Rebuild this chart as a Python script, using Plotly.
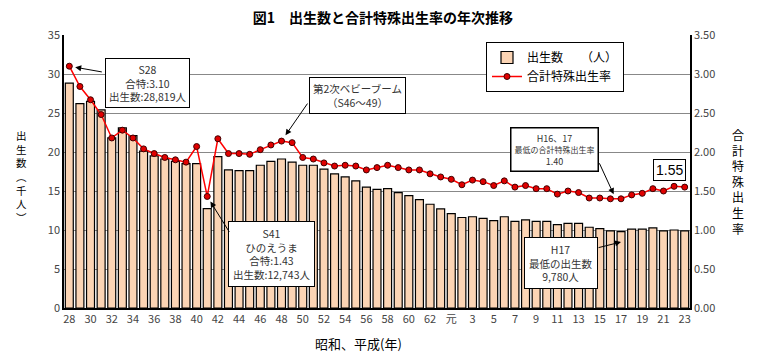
import plotly.graph_objects as go

# ---- data ----
categories = [str(y) for y in range(28, 64)] + ["元"] + [str(y) for y in range(2, 24)]
births = [28.819, 26.2, 26.5, 25.4, 21.8, 23.1, 22.1, 20.1, 19.5, 19.1, 18.8, 18.5, 18.5,
          12.743, 19.4, 17.7, 17.6, 17.6, 18.3, 18.8, 19.1, 18.7, 18.3, 18.3, 17.8, 17.2,
          16.8, 16.3, 15.5, 15.2, 15.3, 14.8, 14.4, 13.9, 13.3, 12.7, 12.1, 11.6, 11.7,
          11.5, 11.2, 11.7, 11.1, 11.3, 11.1, 11.1, 10.7, 10.85, 10.85, 10.35, 10.17, 9.9,
          9.78, 10.1, 10.1, 10.26, 9.9, 10.0, 9.9]
rates = [3.10, 2.84, 2.67, 2.48, 2.18, 2.28, 2.18, 2.04, 1.98, 1.93, 1.90, 1.87, 2.07,
         1.43, 2.17, 1.98, 1.98, 1.97, 2.03, 2.09, 2.14, 2.12, 1.93, 1.91, 1.86, 1.82,
         1.83, 1.82, 1.77, 1.80, 1.83, 1.80, 1.77, 1.77, 1.72, 1.68, 1.65, 1.58, 1.64,
         1.62, 1.57, 1.63, 1.55, 1.57, 1.53, 1.53, 1.46, 1.50, 1.48, 1.41, 1.41, 1.40,
         1.40, 1.45, 1.47, 1.53, 1.50, 1.56, 1.55]
tick_labels = categories[::2]
left_ticks = [0, 5, 10, 15, 20, 25, 30, 35]
right_ticks = [0, 0.5, 1.0, 1.5, 2.0, 2.5, 3.0, 3.5]

FONT = "Noto Sans CJK JP"
OFF = 8  # page body margin
W, H = 758 - OFF, 361 - OFF
L, R, T, B = 64 - OFF, 68, 35 - OFF, 53
PW, PH = W - L - R, H - T - B


def px(xr):
    # x in reference-page pixels -> paper
    return (xr - OFF - L) / PW


def py(yr):
    # y in reference-page pixels -> paper
    return (H - B - (yr - OFF)) / PH


fig = go.Figure()
fig.add_trace(go.Bar(
    x=categories, y=births, name="出生数　　（人）",
    marker=dict(color="#FBD4B4", line=dict(color="#000000", width=1.2)),
    yaxis="y",
))
fig.add_trace(go.Scatter(
    x=categories, y=rates, name="合計特殊出生率", mode="lines+markers",
    line=dict(color="#FF0000", width=1.5),
    marker=dict(color="#E00000", size=6, line=dict(color="#400000", width=1)),
    yaxis="y2",
))

ann = []
box = dict(showarrow=False, bgcolor="white", bordercolor="#000000", borderwidth=1,
           borderpad=3, xref="paper", yref="paper", xanchor="center", yanchor="middle",
           font=dict(family=FONT, size=10.5, color="#333333"))

ann.append(dict(box, text="S28<br>合特:3.10<br>出生数:28,819人", x=px(147), y=py(83)))
ann.append(dict(box, text="第2次ベビーブーム<br>（S46～49）", x=px(357.5), y=py(95)))
ann.append(dict(box, text="S41<br>ひのえうま<br>合特:1.43<br>出生数:12,743人",
                x=px(271.5), y=py(254), borderpad=4))
ann.append(dict(box, text="H16、17<br><span style='font-size:8px'>最低の合計特殊出生率</span><br>1.40",
                x=px(554.5), y=py(149), borderwidth=1.5,
                font=dict(family=FONT, size=9, color="#333333")))
ann.append(dict(box, text="H17<br>最低の出生数<br>9,780人", x=px(561), y=py(262.5),
                borderpad=4))
ann.append(dict(box, text="1.55", x=px(669.5), y=py(169.5), borderpad=2,
                font=dict(family="Liberation Sans", size=14, color="#000000")))

arrow = dict(text="", showarrow=True, arrowhead=2, arrowsize=1.2, arrowwidth=1,
             arrowcolor="#000000")
ann.append(dict(arrow, x=0, y=rates[0], xref="x", yref="y2", ax=34, ay=6, standoff=6))
ann.append(dict(arrow, x=20, y=rates[20], xref="x", yref="y2", ax=27, ay=-39, standoff=7))
ann.append(dict(arrow, x=13, y=rates[13], xref="x", yref="y2", ax=23, ay=37, standoff=6))
ann.append(dict(arrow, x=51.5, y=rates[51], xref="x", yref="y2", ax=-17, ay=-37, standoff=5))
ann.append(dict(arrow, x=52, y=py(242), xref="x", yref="paper", ax=-24, ay=6, standoff=0))

# vertical axis titles (stacked characters)
ann.append(dict(text="<br>".join("出生数︵千人︶"), showarrow=False, xref="paper", yref="paper",
                x=px(21), y=py(177), xanchor="center", yanchor="middle",
                font=dict(family=FONT, size=10.5, color="#000000")))
ann.append(dict(text="<br>".join("合計特殊出生率"), showarrow=False, xref="paper", yref="paper",
                x=px(738), y=py(181), xanchor="center", yanchor="middle",
                font=dict(family=FONT, size=12, color="#000000")))
ann.append(dict(text="昭和、平成(年)", showarrow=False, xref="paper", yref="paper",
                x=px(358), y=py(343), xanchor="center", yanchor="middle",
                font=dict(family=FONT, size=13, color="#000000")))

fig.update_layout(
    width=W, height=H, autosize=False,
    margin=dict(l=L, r=R, t=T, b=B),
    paper_bgcolor="white", plot_bgcolor="white",
    title=dict(text="<b>図1　出生数と合計特殊出生率の年次推移</b>", x=0.5, xanchor="center",
               y=1 - (18 - OFF) / H, yanchor="middle",
               font=dict(family=FONT, size=14, color="#000000")),
    font=dict(family=FONT, size=11, color="#444444"),
    bargap=0.25,
    showlegend=True,
    legend=dict(x=px(486), y=py(42), xanchor="left", yanchor="top",
                bgcolor="white", bordercolor="#000000", borderwidth=1,
                font=dict(family=FONT, size=12, color="#000000"),
                tracegroupgap=0, itemwidth=30),
    xaxis=dict(type="category", tickvals=tick_labels, ticktext=tick_labels,
               range=[-0.5, len(categories) - 0.5], showgrid=False,
               showline=True, linecolor="#000000", linewidth=1.5, ticks="",
               tickfont=dict(family=FONT, size=11, color="#444444"), tickangle=0),
    yaxis=dict(range=[0, 35], tickvals=left_ticks, showgrid=True, gridcolor="#888888",
               gridwidth=1, showline=True, linecolor="#000000", linewidth=1.5,
               ticks="", zeroline=False,
               tickfont=dict(family=FONT, size=11, color="#444444")),
    yaxis2=dict(range=[0, 3.5], tickvals=right_ticks, tickformat=".2f", overlaying="y",
                side="right", showgrid=False, showline=True, linecolor="#000000",
                linewidth=1.5, ticks="", zeroline=False,
                tickfont=dict(family=FONT, size=11, color="#444444")),
    annotations=ann,
)

fig.write_html("out.html")
